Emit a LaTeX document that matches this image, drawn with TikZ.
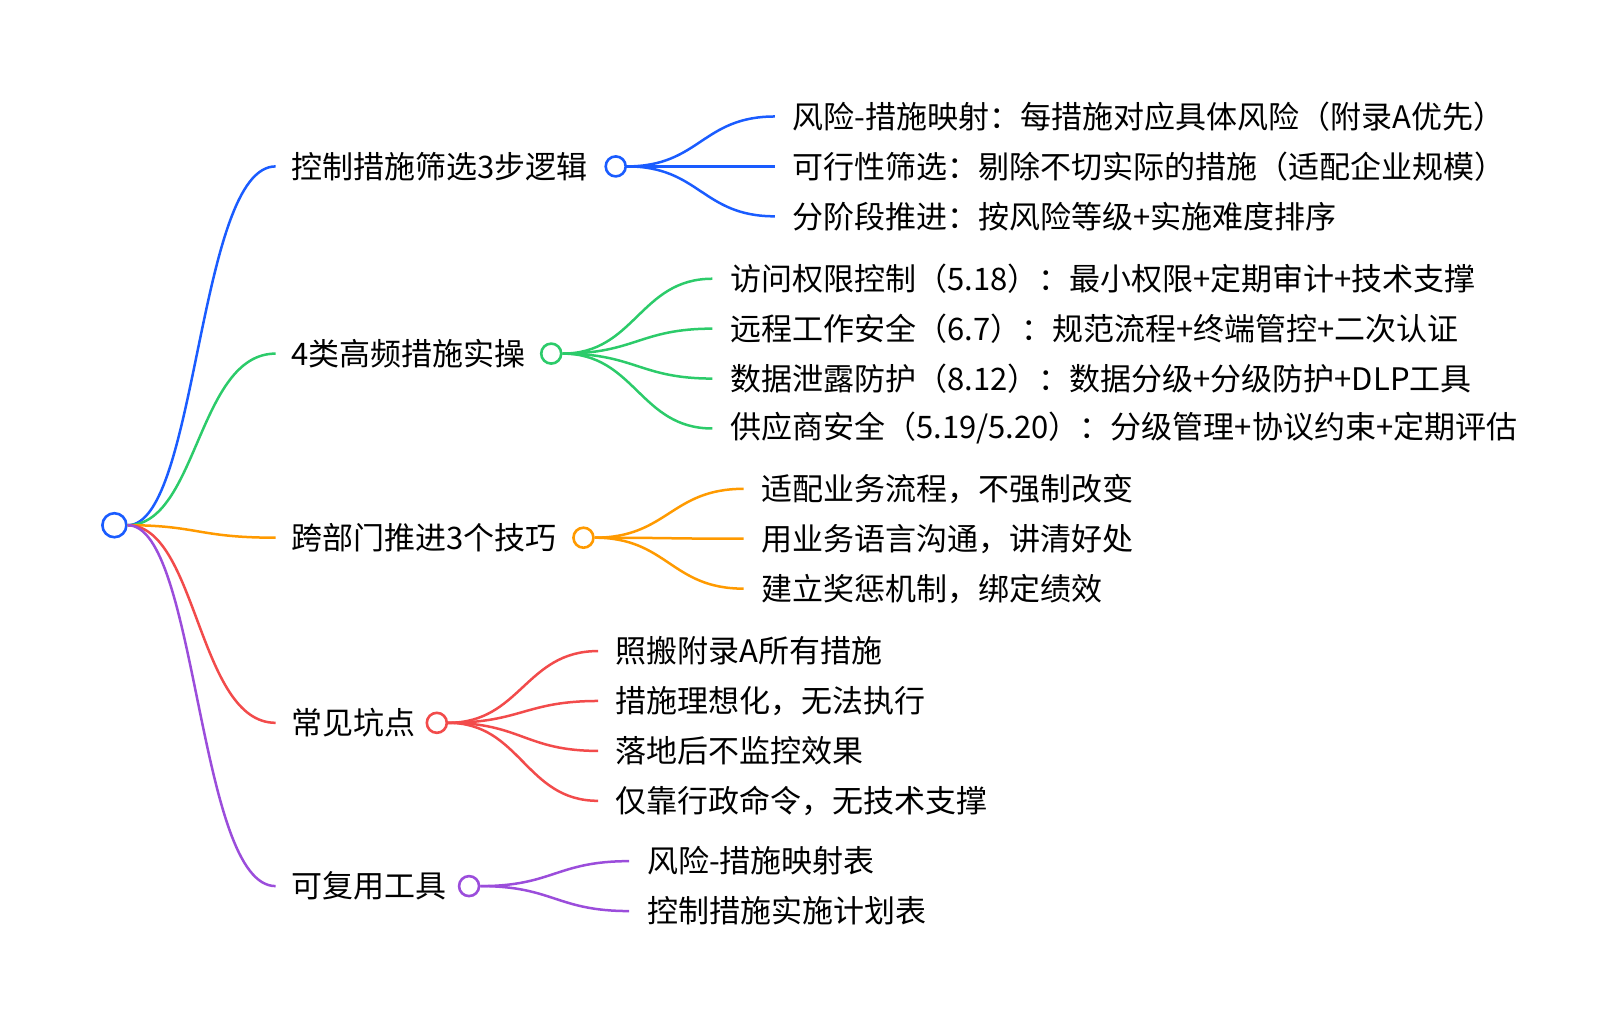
\documentclass[tikz,border=0pt]{standalone}
\usepackage{fontspec}
\setmainfont{Noto Sans CJK SC}
\usetikzlibrary{calc}
\definecolor{cb}{HTML}{1A5CFF}
\definecolor{cg}{HTML}{2CCB6A}
\definecolor{co}{HTML}{FF9A00}
\definecolor{cr}{HTML}{F24B4B}
\definecolor{cp}{HTML}{9B4DDB}
\begin{document}
\begin{tikzpicture}[x=1.04pt,y=-1.04pt,
  dot/.style={circle,draw=#1,fill=white,line width=2.6pt,inner sep=0pt,minimum size=20pt},
  txt/.style={anchor=west,inner sep=0pt,font=\fontsize{31}{36}\selectfont},
  ln/.style={line width=2.5pt,#1}]
\useasboundingbox (0,0) rectangle (1561.5,982.7);
\node[dot=cb,minimum size=24pt] (root) at (110,505) {};
\def\branch#1#2#3#4#5{%
  \coordinate (#1s) at (265,#3);
  \node[txt] (#1t) at (280,#3) {#4};
  \node[dot=#2] (#1c) at (#5,#3) {};
  \draw[ln=#2] (root.east) .. controls (190,505) and (190,#3) .. (#1s);
}
\branch{a}{cb}{160}{控制措施筛选3步逻辑}{592}
\branch{b}{cg}{340}{4类高频措施实操}{530}
\branch{c}{co}{517}{跨部门推进3个技巧}{561}
\branch{d}{cr}{695}{常见坑点}{420}
\branch{e}{cp}{852}{可复用工具}{451}
\def\ch#1#2#3#4#5#6{%
  \coordinate (#1e) at (#4,#5);
  \node[txt] (#1t) at (#4+17,#5) {#6};
  \draw[ln=#2] (#3c.east) .. controls ($(#3c.east)+(70,0)$) and ($(#1e)+(-70,0)$) .. (#1e);
}
\ch{a1}{cb}{a}{745}{112}{风险-措施映射：每措施对应具体风险（附录A优先）}
\ch{a2}{cb}{a}{745}{160}{可行性筛选：剔除不切实际的措施（适配企业规模）}
\ch{a3}{cb}{a}{745}{208}{分阶段推进：按风险等级+实施难度排序}
\ch{b1}{cg}{b}{685}{268}{访问权限控制（5.18）：最小权限+定期审计+技术支撑}
\ch{b2}{cg}{b}{685}{316}{远程工作安全（6.7）：规范流程+终端管控+二次认证}
\ch{b3}{cg}{b}{685}{364}{数据泄露防护（8.12）：数据分级+分级防护+DLP工具}
\ch{b4}{cg}{b}{685}{412}{供应商安全（5.19/5.20）：分级管理+协议约束+定期评估}
\ch{c1}{co}{c}{715}{470}{适配业务流程，不强制改变}
\ch{c2}{co}{c}{715}{518}{用业务语言沟通，讲清好处}
\ch{c3}{co}{c}{715}{566}{建立奖惩机制，绑定绩效}
\ch{d1}{cr}{d}{575}{626}{照搬附录A所有措施}
\ch{d2}{cr}{d}{575}{674}{措施理想化，无法执行}
\ch{d3}{cr}{d}{575}{722}{落地后不监控效果}
\ch{d4}{cr}{d}{575}{770}{仅靠行政命令，无技术支撑}
\ch{e1}{cp}{e}{605}{828}{风险-措施映射表}
\ch{e2}{cp}{e}{605}{876}{控制措施实施计划表}
\end{tikzpicture}
\end{document}
